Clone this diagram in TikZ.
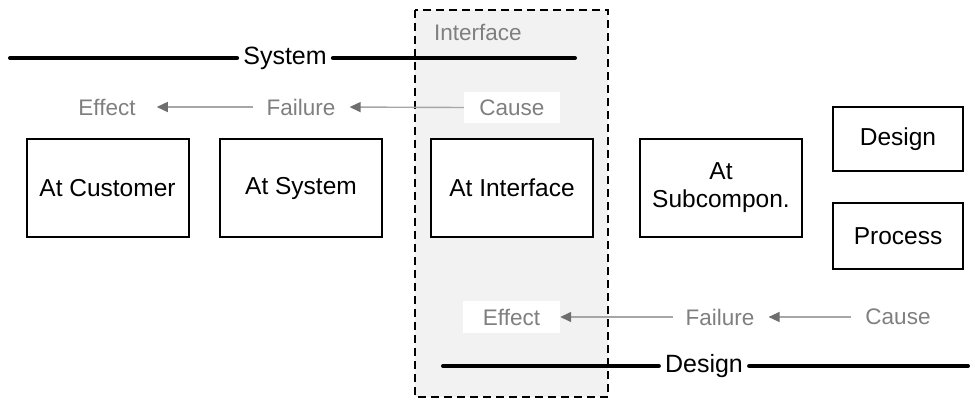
\documentclass[tikz,border=0pt]{standalone}
\usepackage{fontspec}
\setmainfont{Liberation Sans}
\usetikzlibrary{arrows.meta}
\definecolor{lblgray}{HTML}{7F7F7F}
\definecolor{arrgray}{HTML}{A6A6A6}
\definecolor{tipgray}{HTML}{6E6E6E}
\definecolor{ifill}{HTML}{F2F2F2}
\tikzset{
  box/.style={draw=black, line width=2pt, fill=white, inner sep=0pt, align=center, font=\fontsize{24.5}{28}\selectfont},
  lbl/.style={text=lblgray, inner sep=0pt, font=\fontsize{22.5}{26}\selectfont},
  wlbl/.style={lbl, fill=white},
  thick line/.style={line width=4pt, line cap=round},
  flow/.style={draw=arrgray, line width=1.4pt, -{Triangle[length=11pt,width=10pt,fill=tipgray,color=tipgray]}},
  title/.style={inner xsep=6pt, inner ysep=0pt, font=\fontsize{25}{28}\selectfont}
}
\begin{document}
\begin{tikzpicture}[x=1pt,y=-1pt]
\useasboundingbox (0,0) rectangle (970,401);
% interface region
\draw[fill=ifill, line width=2.2pt, dash pattern=on 8pt off 5pt] (415,10) rectangle (608,397);
\node[lbl, anchor=west] (iface) at (434,32) {Interface};
% system line
\node[title] (sys) at (285,58) {System};
\coordinate (sysL) at (10,58);
\coordinate (sysR) at (575,58);
\draw[thick line] (sysL) -- (sys.west);
\draw[thick line] (sys.east) -- (sysR);
% top chain
\node[wlbl, minimum width=96pt, minimum height=31pt] (cause1) at (512,107.5) {Cause};
\node[lbl] (fail1) at (301,107) {Failure};
\node[lbl] (eff1) at (107,107) {Effect};
\draw[flow, shorten >=14pt] (cause1.west) -- (fail1.east);
\draw[flow, shorten <=13pt, shorten >=21pt] (fail1.west) -- (eff1.east);
% boxes
\node[box, minimum width=162pt, minimum height=98pt] (cust) at (107.5,188) {At Customer};
\node[box, minimum width=162pt, minimum height=98pt] (sysb) at (301,188) {At System};
\node[box, minimum width=162pt, minimum height=98pt] (intb) at (512,188) {At Interface};
\node[box, minimum width=162pt, minimum height=98pt] (subb) at (721,188) {At\\Subcompon.};
\node[box, minimum width=130pt, minimum height=64pt] (desb) at (898,139) {Design};
\node[box, minimum width=130pt, minimum height=66pt] (prob) at (898,236) {Process};
% bottom chain
\node[wlbl, minimum width=97pt, minimum height=32pt] (eff2) at (511.5,317) {Effect};
\node[lbl] (fail2) at (720,317) {Failure};
\node[lbl] (cause2) at (898,317) {Cause};
\draw[flow, shorten <=12pt] (fail2.west) -- (eff2.east);
\draw[flow, shorten <=14pt, shorten >=14pt] (cause2.west) -- (fail2.east);
% design line
\node[title] (des) at (704,366) {Design};
\coordinate (desL) at (443,366);
\coordinate (desR) at (968,366);
\draw[thick line] (desL) -- (des.west);
\draw[thick line] (des.east) -- (desR);
\end{tikzpicture}
\end{document}
